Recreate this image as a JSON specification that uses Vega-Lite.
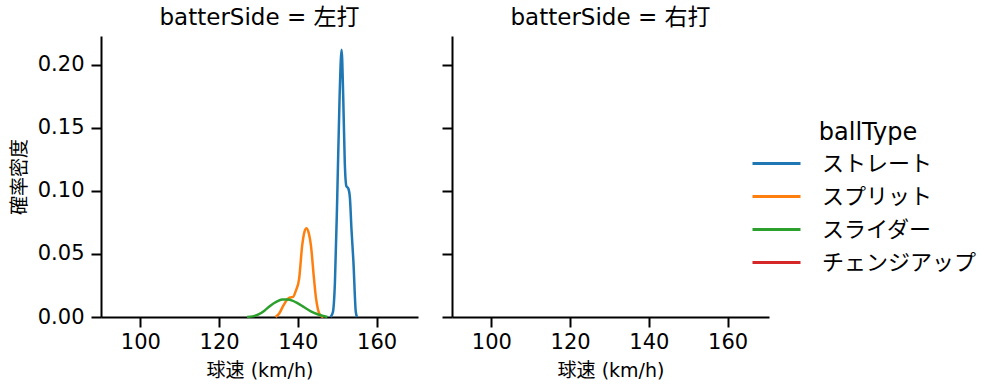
{
  "$schema": "https://vega.github.io/schema/vega-lite/v6.json",
  "background": "white",
  "padding": {"left": 10, "top": 7, "right": 5, "bottom": 5},
  "config": {
    "font": "DejaVu Sans, Noto Sans CJK JP",
    "view": {"stroke": null},
    "axis": {
      "domainColor": "black", "domainWidth": 2, "tickColor": "black", "tickWidth": 2, "tickSize": 10,
      "labelFontSize": 21, "labelColor": "black", "labelPadding": 7,
      "titleFontSize": 19, "titleFontWeight": "normal", "titleColor": "black", "grid": false
    },
    "axisX": {"labelPadding": 4, "titlePadding": 9},
    "axisY": {"titlePadding": 8},
    "title": {"fontSize": 23, "fontWeight": "normal", "color": "black", "offset": 6, "font": "DejaVu Sans, Noto Sans CJK JP"},
    "legend": {"titleFontSize": 24, "titleFontWeight": "normal", "labelFontSize": 22, "titleColor": "black", "labelColor": "black"}
  },
  "data": {"values": [
    {"batterSide": "左打", "ballType": "ストレート", "speed": 148.3, "density": 0},
    {"batterSide": "左打", "ballType": "ストレート", "speed": 148.9, "density": 0.004},
    {"batterSide": "左打", "ballType": "ストレート", "speed": 149.4, "density": 0.027},
    {"batterSide": "左打", "ballType": "ストレート", "speed": 150.0, "density": 0.096},
    {"batterSide": "左打", "ballType": "ストレート", "speed": 150.6, "density": 0.176},
    {"batterSide": "左打", "ballType": "ストレート", "speed": 151.1, "density": 0.212},
    {"batterSide": "左打", "ballType": "ストレート", "speed": 151.5, "density": 0.176},
    {"batterSide": "左打", "ballType": "ストレート", "speed": 151.9, "density": 0.123},
    {"batterSide": "左打", "ballType": "ストレート", "speed": 152.3, "density": 0.104},
    {"batterSide": "左打", "ballType": "ストレート", "speed": 152.8, "density": 0.102},
    {"batterSide": "左打", "ballType": "ストレート", "speed": 153.2, "density": 0.095},
    {"batterSide": "左打", "ballType": "ストレート", "speed": 153.6, "density": 0.07},
    {"batterSide": "左打", "ballType": "ストレート", "speed": 154.1, "density": 0.044},
    {"batterSide": "左打", "ballType": "ストレート", "speed": 154.7, "density": 0.004},
    {"batterSide": "左打", "ballType": "ストレート", "speed": 155.0, "density": 0},
    {"batterSide": "左打", "ballType": "スプリット", "speed": 134.3, "density": 0},
    {"batterSide": "左打", "ballType": "スプリット", "speed": 135.3, "density": 0.003},
    {"batterSide": "左打", "ballType": "スプリット", "speed": 136.3, "density": 0.009},
    {"batterSide": "左打", "ballType": "スプリット", "speed": 137.3, "density": 0.014},
    {"batterSide": "左打", "ballType": "スプリット", "speed": 138.0, "density": 0.0155},
    {"batterSide": "左打", "ballType": "スプリット", "speed": 138.8, "density": 0.016},
    {"batterSide": "左打", "ballType": "スプリット", "speed": 139.5, "density": 0.021},
    {"batterSide": "左打", "ballType": "スプリット", "speed": 140.3, "density": 0.030},
    {"batterSide": "左打", "ballType": "スプリット", "speed": 141.1, "density": 0.057},
    {"batterSide": "左打", "ballType": "スプリット", "speed": 141.7, "density": 0.068},
    {"batterSide": "左打", "ballType": "スプリット", "speed": 142.2, "density": 0.0705},
    {"batterSide": "左打", "ballType": "スプリット", "speed": 142.8, "density": 0.066},
    {"batterSide": "左打", "ballType": "スプリット", "speed": 143.3, "density": 0.057},
    {"batterSide": "左打", "ballType": "スプリット", "speed": 144.1, "density": 0.030},
    {"batterSide": "左打", "ballType": "スプリット", "speed": 144.6, "density": 0.015},
    {"batterSide": "左打", "ballType": "スプリット", "speed": 145.1, "density": 0.006},
    {"batterSide": "左打", "ballType": "スプリット", "speed": 145.8, "density": 0.001},
    {"batterSide": "左打", "ballType": "スプリット", "speed": 146.5, "density": 0},
    {"batterSide": "左打", "ballType": "スライダー", "speed": 127.1, "density": 0},
    {"batterSide": "左打", "ballType": "スライダー", "speed": 128.5, "density": 0.0005},
    {"batterSide": "左打", "ballType": "スライダー", "speed": 130.0, "density": 0.002},
    {"batterSide": "左打", "ballType": "スライダー", "speed": 131.5, "density": 0.005},
    {"batterSide": "左打", "ballType": "スライダー", "speed": 133.0, "density": 0.009},
    {"batterSide": "左打", "ballType": "スライダー", "speed": 134.5, "density": 0.012},
    {"batterSide": "左打", "ballType": "スライダー", "speed": 136.0, "density": 0.0138},
    {"batterSide": "左打", "ballType": "スライダー", "speed": 137.3, "density": 0.0138},
    {"batterSide": "左打", "ballType": "スライダー", "speed": 138.6, "density": 0.013},
    {"batterSide": "左打", "ballType": "スライダー", "speed": 140.0, "density": 0.0108},
    {"batterSide": "左打", "ballType": "スライダー", "speed": 141.6, "density": 0.0077},
    {"batterSide": "左打", "ballType": "スライダー", "speed": 143.3, "density": 0.0045},
    {"batterSide": "左打", "ballType": "スライダー", "speed": 145.0, "density": 0.0022},
    {"batterSide": "左打", "ballType": "スライダー", "speed": 146.2, "density": 0.001},
    {"batterSide": "左打", "ballType": "スライダー", "speed": 147.5, "density": 0}
  ]},
  "spacing": 23,
  "hconcat": [
    {
      "width": 317, "height": 281,
      "title": "batterSide = 左打",
      "transform": [{"filter": "datum.batterSide === '左打'"}],
      "mark": {"type": "line", "strokeWidth": 2.5, "interpolate": "monotone"},
      "encoding": {
        "x": {"field": "speed", "type": "quantitative", "title": "球速 (km/h)",
              "scale": {"domain": [90, 170.5], "nice": false, "zero": false},
              "axis": {"values": [100, 120, 140, 160]}},
        "y": {"field": "density", "type": "quantitative", "title": "確率密度",
              "scale": {"domain": [0, 0.223], "nice": false},
              "axis": {"values": [0, 0.05, 0.1, 0.15, 0.2], "format": ".2f"}},
        "color": {"field": "ballType", "type": "nominal",
                  "scale": {"domain": ["ストレート", "スプリット", "スライダー", "チェンジアップ"],
                            "range": ["#1f77b4", "#ff7f0e", "#2ca02c", "#d62728"]},
                  "legend": {"orient": "none", "legendX": 659, "legendY": 85, "symbolType": "M-1.6,0H1.6", "symbolSize": 900, "symbolStrokeWidth": 3, "rowPadding": 5, "labelOffset": 29, "padding": 0, "title": "ballType", "titlePadding": 2, "titleAnchor": "middle"}}
      }
    },
    {
      "width": 317, "height": 281,
      "title": "batterSide = 右打",
      "transform": [{"filter": "datum.batterSide === '右打'"}],
      "mark": {"type": "line", "strokeWidth": 2.5, "interpolate": "monotone"},
      "encoding": {
        "x": {"field": "speed", "type": "quantitative", "title": "球速 (km/h)",
              "scale": {"domain": [90, 170.5], "nice": false, "zero": false},
              "axis": {"values": [100, 120, 140, 160]}},
        "y": {"field": "density", "type": "quantitative", "title": null,
              "scale": {"domain": [0, 0.223], "nice": false},
              "axis": {"values": [0, 0.05, 0.1, 0.15, 0.2], "labels": false}},
        "color": {"field": "ballType", "type": "nominal",
                  "scale": {"domain": ["ストレート", "スプリット", "スライダー", "チェンジアップ"],
                            "range": ["#1f77b4", "#ff7f0e", "#2ca02c", "#d62728"]}}
      }
    }
  ]
}
